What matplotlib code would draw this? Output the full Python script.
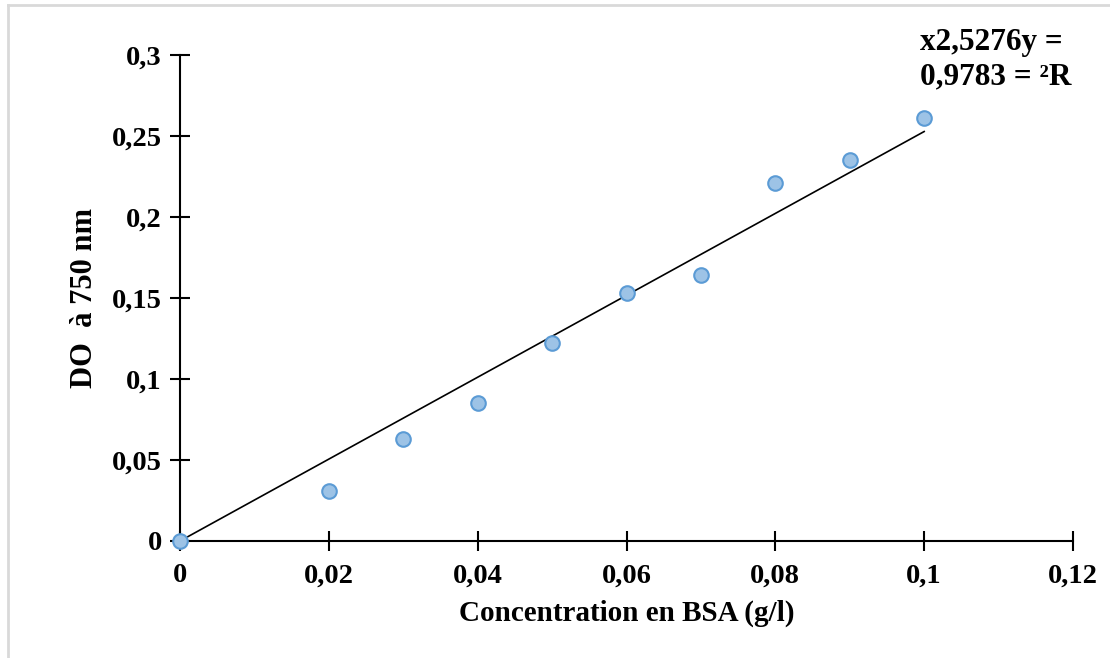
import matplotlib
matplotlib.use("Agg")
import matplotlib.pyplot as plt
from matplotlib.lines import Line2D
from matplotlib.ticker import FuncFormatter
import numpy as np

conc = [0, 0.02, 0.03, 0.04, 0.05, 0.06, 0.07, 0.08, 0.09, 0.1]
do750 = [0, 0.031, 0.063, 0.085, 0.122, 0.153, 0.164, 0.221, 0.235, 0.261]
slope = 2.5276
trend_x = [0, 0.1]
x_ticks = [0, 0.02, 0.04, 0.06, 0.08, 0.1, 0.12]
y_ticks = [0, 0.05, 0.1, 0.15, 0.2, 0.25, 0.3]
eq_text = "x2,5276y =\n0,9783 = ²R"

plt.rcParams['font.family'] = ['Liberation Serif', 'DejaVu Serif']
plt.rcParams['font.weight'] = 'bold'

fig = plt.figure(figsize=(11.1, 6.58), dpi=100)
ax = fig.add_axes([180/1110, 1-541/658, (1073-180)/1110, (541-55)/658])

# figure frame (top and left light gray)
fig.add_artist(Line2D([8/1110, 8/1110], [0, 1-5/658], transform=fig.transFigure, color='#d9d9d9', lw=2))
fig.add_artist(Line2D([8/1110, 1], [1-5/658, 1-5/658], transform=fig.transFigure, color='#d9d9d9', lw=2))

tx = np.array(trend_x)
ax.plot(tx, slope*tx, color='black', lw=1.2, zorder=2)
ax.scatter(conc, do750, s=110, facecolor='#9dc3e6', edgecolor='#5b9bd5', linewidth=1.5, zorder=3, clip_on=False)

ax.set_xlim(0, 0.12)
ax.set_ylim(0, 0.3)
ax.set_xticks(x_ticks)
ax.set_yticks(y_ticks)
fmt = FuncFormatter(lambda v, p: ('%g' % round(v, 4)).replace('.', ','))
ax.xaxis.set_major_formatter(fmt)
ax.yaxis.set_major_formatter(fmt)
ax.tick_params(direction='inout', length=14, width=1.5, labelsize=20.5)
ax.tick_params(axis='x', pad=9)
ax.tick_params(axis='y', pad=6)
for s in ['top', 'right']:
    ax.spines[s].set_visible(False)
for s in ['left', 'bottom']:
    ax.spines[s].set_linewidth(1.5)
for lbl in ax.get_xticklabels() + ax.get_yticklabels():
    lbl.set_fontweight('bold')

ax.set_xlabel('Concentration en BSA (g/l)', fontsize=21, fontweight='bold', labelpad=8)
ax.set_ylabel('DO  à 750 nm', fontsize=22, fontweight='bold', labelpad=9)

fig.text(920/1110, 1-60/658, eq_text, fontsize=22.5, fontweight='bold', ha='left', va='center', linespacing=1.25)

fig.savefig('out.png', dpi=100, facecolor='white')
